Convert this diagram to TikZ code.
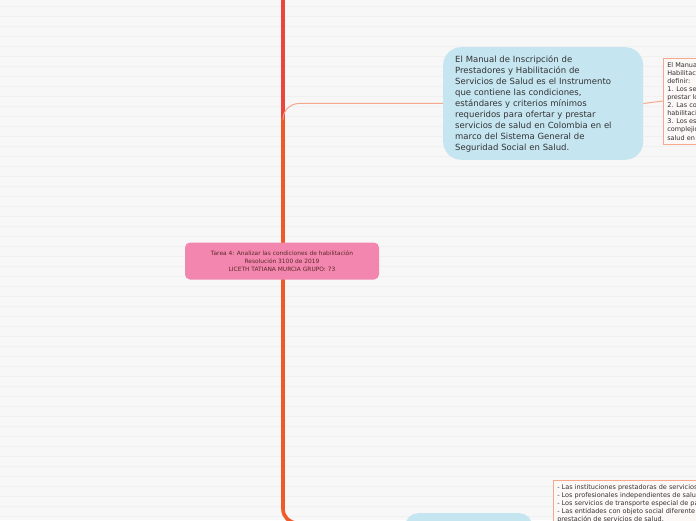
\documentclass[tikz,border=0pt]{standalone}
\usepackage{fontspec}
\setmainfont{DejaVu Sans}
\usetikzlibrary{positioning, calc, backgrounds}
\definecolor{paper}{RGB}{247,247,247}
\definecolor{paperline}{RGB}{240,240,240}
\definecolor{trunkred}{RGB}{236,70,60}
\definecolor{trunkorange}{RGB}{240,90,40}
\definecolor{branchline}{RGB}{245,168,140}
\definecolor{topicpink}{RGB}{243,134,174}
\definecolor{subblue}{RGB}{197,229,240}
\definecolor{notebox}{RGB}{251,248,246}
\definecolor{textdark}{RGB}{51,51,51}

\begin{document}
\begin{tikzpicture}[x=1pt, y=-1pt,
  topic/.style={rectangle, rounded corners=5pt, fill=topicpink,
                minimum width=194pt, minimum height=37pt, align=center,
                font=\fontsize{5.9}{8}\selectfont, text=textdark!80!red},
  subtopic/.style={rectangle, rounded corners=18pt, fill=subblue,
                   minimum width=200pt, inner xsep=12pt, inner ysep=8pt,
                   text width=176pt, align=left,
                   font=\fontsize{8.5}{11}\selectfont, text=textdark},
  note/.style={rectangle, draw=branchline, fill=notebox, line width=0.6pt,
               inner xsep=4pt, inner ysep=4pt, align=left,
               font=\fontsize{6.5}{8.1}\selectfont, text=textdark},
  trunk/.style={line width=3.6pt, line cap=round},
  branch/.style={line width=1pt, draw=branchline}
]

  \clip (0,0) rectangle (696,520);

  % Central topic
  \node[topic] (tarea) at (282,261)
        {Tarea 4: Analizar las condiciones de habilitación\\
         Resolución 3100 de 2019\\
         LICETH TATIANA MURCIA GRUPO: 73};

  % Upper branch
  \node[subtopic, anchor=north west] (manual) at (443,47)
        {El Manual de Inscripción de\\
         Prestadores y Habilitación de\\
         Servicios de Salud es el Instrumento\\
         que contiene las condiciones,\\
         estándares y criterios mínimos\\
         requeridos para ofertar y prestar\\
         servicios de salud en Colombia en el\\
         marco del Sistema General de\\
         Seguridad Social en Salud.};

  \node[note, anchor=west] (definir) at (663,101)
        {El Manual de Inscripción de Prestadores y\\
         Habilitación de Servicios de Salud permite\\
         definir:\\
         1. Los servicios de salud que pueden\\
         prestar los prestadores de servicios.\\
         2. Las condiciones y estándares de\\
         habilitación de los servicios.\\
         3. Los estándares de acuerdo con la\\
         complejidad de los servicios de\\
         salud en Colombia.};

  % Lower branch
  \node[subtopic, anchor=north west, minimum width=127pt, text width=103pt,
        minimum height=80pt, rounded corners=13pt] (sujetos) at (405,513) {};

  \node[note, anchor=north west] (prestadores) at (553,480)
        {- Las instituciones prestadoras de servicios de salud.\\
         - Los profesionales independientes de salud.\\
         - Los servicios de transporte especial de pacientes.\\
         - Las entidades con objeto social diferente a la\\
         prestación de servicios de salud.};

  % Connectors
  \coordinate (parent) at (283,-20);
  \coordinate (fork) at (283,117);
  \coordinate (elbow) at ($(sujetos.north west)+(-100,10)$);
  \begin{scope}[on background layer]
    \fill[paper] (0,0) rectangle (696,520);
    \foreach \y in {6,16,...,516} {
      \draw[paperline, line width=0.5pt] (0,\y) -- (696,\y);
    }
    \draw[trunk, trunkorange, rounded corners=14pt] (fork) |- (elbow);
    \draw[trunk, trunkred] (parent) -- (fork);
    \draw[branch, rounded corners=16pt] (fork) |- (manual.west);
  \end{scope}
  \draw[branch] (manual.east) -- (definir.west);
  \draw[branch, line width=0.8pt] (elbow) -- (sujetos.north west |- elbow);

\end{tikzpicture}
\end{document}
